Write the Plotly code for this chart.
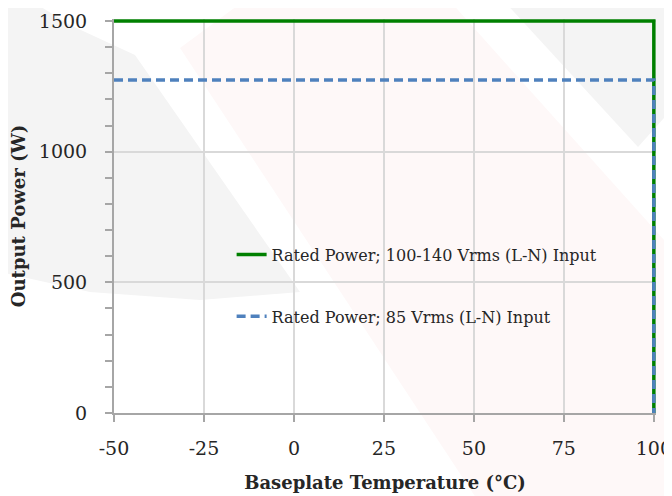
import plotly.graph_objects as go

# data
temp_c = [-50, 100, 100]
power_rated_w = [1500, 1500, 0]
power_85v_w = [1275, 1275, 0]

x_ticks = [-50, -25, 0, 25, 50, 75, 100]
x_tick_text = ["-50", "-25", "0", "25", "50", "75", "100"]

name_rated = "Rated Power; 100-140 Vrms (L-N) Input"
name_85v = "Rated Power; 85 Vrms (L-N) Input"

FONT = "DejaVu Serif, serif"

# the page body adds an 8px margin, so the figure is drawn 8px in
OFF = 8
W, H = 672, 496

# plot area in screen pixels; ranges padded a touch so the thick lines on
# the top/right edges are not clipped in half
L, R, T, B = 114 - OFF, 656 - OFF, 19 - OFF, 413 - OFF
X_RANGE = [-50, 100.6]
Y_RANGE = [0, 1508]


def px(x):
    return (x - OFF - L) / (R - L)


def py(y):
    return (B - (y - OFF)) / (B - T)


def path(points):
    s = "M " + " L ".join(f"{px(x):.4f},{py(y):.4f}" for x, y in points)
    return s + " Z"


fig = go.Figure()

fig.add_trace(go.Scatter(
    x=temp_c, y=power_rated_w, mode="lines", name=name_rated,
    line=dict(color="#008000", width=3.5), legendgroup="a"))
fig.add_trace(go.Scatter(
    x=temp_c, y=power_85v_w, mode="lines", name=name_85v,
    line=dict(color="#4f81bd", width=3.5, dash="9px,5px"), legendgroup="b"))

# faint logo watermark behind the chart
watermark = [
    ([(0, 0), (30, 0), (70, 25), (135, 55), (300, 292), (200, 300), (90, 292), (0, 272)], "#f4f4f4"),
    ([(180, 48), (245, 0), (449, 0), (680, 258), (680, 504), (480, 504)], "#fef8f8"),
    ([(503, 0), (680, 0), (680, 100), (638, 147)], "#f4f4f4"),
]
for pts, col in watermark:
    fig.add_shape(type="path", path=path(pts), xref="paper", yref="paper",
                  fillcolor=col, line=dict(width=0), layer="below")

fig.update_layout(
    width=W, height=H,
    paper_bgcolor="white",
    plot_bgcolor="rgba(0,0,0,0)",
    font=dict(family=FONT, color="#262626"),
    margin=dict(l=L, r=W - R, t=T, b=H - B),
    legend=dict(
        x=0.217, y=0.445, xanchor="left", yanchor="top",
        bgcolor="rgba(0,0,0,0)", font=dict(size=16, color="#262626"),
        tracegroupgap=38, traceorder="grouped"),
    showlegend=True,
)

fig.update_xaxes(
    range=X_RANGE, tickvals=x_ticks, ticktext=x_tick_text,
    showgrid=True, gridcolor="#d9d9d9", gridwidth=1.5,
    showline=True, linecolor="#a6a6a6", linewidth=2,
    ticks="outside", ticklen=7, tickcolor="#a6a6a6", tickwidth=2,
    tickfont=dict(size=19, color="#262626"), ticklabelstandoff=10,
    ticklabeloverflow="allow",
    zeroline=False, automargin=False,
    title=dict(text="<b>Baseplate Temperature (°C)</b>",
               font=dict(size=18, color="#262626"), standoff=19),
)
fig.update_yaxes(
    range=Y_RANGE, dtick=500, tick0=0,
    showgrid=True, gridcolor="#d9d9d9", gridwidth=1.5,
    showline=True, linecolor="#a6a6a6", linewidth=2,
    ticks="outside", ticklen=7, tickcolor="#a6a6a6", tickwidth=2,
    minor=dict(dtick=100, ticks="outside", ticklen=7, tickcolor="#a6a6a6",
               tickwidth=2, showgrid=False),
    tickfont=dict(size=19, color="#262626"), ticklabelstandoff=14,
    zeroline=False, automargin=False,
    title=dict(text="<b>Output Power (W)</b>",
               font=dict(size=18, color="#262626"), standoff=10),
)

fig.write_html("out.html")
